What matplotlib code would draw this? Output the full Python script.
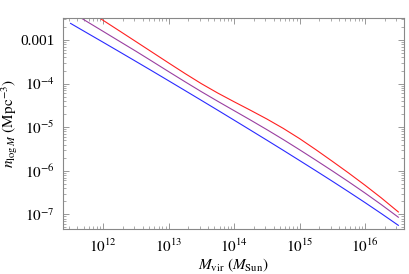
import matplotlib
matplotlib.use("Agg")
import matplotlib.pyplot as plt
import numpy as np
from matplotlib.ticker import FixedLocator, FixedFormatter, LogLocator, NullFormatter

# log10 of virial mass (M_Sun), read every quarter decade
log_mass = [11.5, 11.75, 12.0, 12.25, 12.5, 12.75, 13.0, 13.25, 13.5, 13.75, 14.0,
            14.25, 14.5, 14.75, 15.0, 15.25, 15.5, 15.75, 16.0, 16.25, 16.51]

# log10 of number density per log M (Mpc^-3)
log_n_red = [-2.068, -2.308, -2.549, -2.792, -3.036, -3.281, -3.526, -3.768, -4.001,
             -4.216, -4.416, -4.611, -4.811, -5.026, -5.261, -5.516, -5.781, -6.051,
             -6.331, -6.623, -6.945]
log_n_purple = [-2.347, -2.575, -2.802, -3.030, -3.257, -3.490, -3.725, -3.957, -4.185,
                -4.405, -4.620, -4.835, -5.055, -5.282, -5.517, -5.757, -6.002, -6.252,
                -6.510, -6.777, -7.066]
log_n_blue = [-2.617, -2.835, -3.052, -3.271, -3.491, -3.712, -3.935, -4.159, -4.384,
              -4.610, -4.838, -5.067, -5.297, -5.529, -5.764, -6.000, -6.239, -6.482,
              -6.729, -6.982, -7.252]

x_ticks = [1e12, 1e13, 1e14, 1e15, 1e16]
x_labels = ["$10^{12}$", "$10^{13}$", "$10^{14}$", "$10^{15}$", "$10^{16}$"]
y_ticks = [1e-3, 1e-4, 1e-5, 1e-6, 1e-7]
y_labels = ["0.001", "$10^{-4}$", "$10^{-5}$", "$10^{-6}$", "$10^{-7}$"]

plt.rcParams["font.family"] = ["Liberation Serif", "DejaVu Serif"]
plt.rcParams["mathtext.fontset"] = "stix"

fig = plt.figure(figsize=(4.09, 2.74), dpi=100)
ax = fig.add_axes([0.154, 0.163, 0.834, 0.771])

m = 10 ** np.array(log_mass)
ax.plot(m, 10 ** np.array(log_n_red), color="#ff2020", lw=0.8)
ax.plot(m, 10 ** np.array(log_n_purple), color="#9a3fa0", lw=0.8)
ax.plot(m, 10 ** np.array(log_n_blue), color="#2a2aff", lw=0.8)

ax.set_xscale("log")
ax.set_yscale("log")
ax.set_xlim(10 ** 11.384, 10 ** 16.598)
ax.set_ylim(10 ** -7.344, 10 ** -2.495)

ax.xaxis.set_major_locator(FixedLocator(x_ticks))
ax.xaxis.set_major_formatter(FixedFormatter(x_labels))
ax.yaxis.set_major_locator(FixedLocator(y_ticks))
ax.yaxis.set_major_formatter(FixedFormatter(y_labels))
ax.xaxis.set_minor_locator(LogLocator(base=10, subs=np.arange(2, 10)))
ax.yaxis.set_minor_locator(LogLocator(base=10, subs=np.arange(2, 10)))
ax.xaxis.set_minor_formatter(NullFormatter())
ax.yaxis.set_minor_formatter(NullFormatter())

frame = "#888888"
for s in ax.spines.values():
    s.set_color(frame)
    s.set_linewidth(0.8)
ax.tick_params(which="both", direction="in", top=True, right=True,
               color=frame, labelsize=11, labelcolor="black")
ax.tick_params(which="major", length=4, width=0.6, pad=6)
ax.tick_params(which="minor", length=2, width=0.5)

ax.set_xlabel(r"$M_{\mathrm{vir}}\ (M_{\mathrm{Sun}})$", fontsize=11, labelpad=1)
ax.set_ylabel(r"$n_{\log M}\ (\mathrm{Mpc}^{-3})$", fontsize=11)
ax.yaxis.set_label_coords(-0.125, 0.5)

fig.savefig("out.png", dpi=100)
